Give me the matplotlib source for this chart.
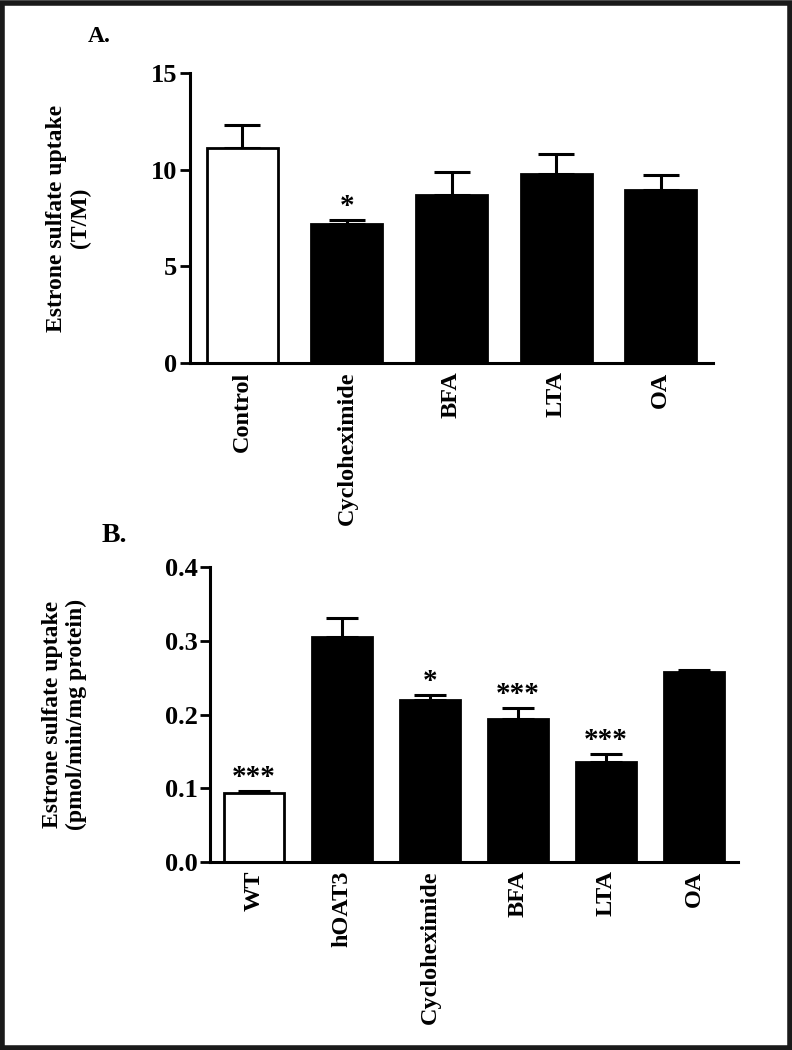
import matplotlib
matplotlib.use("Agg")
import matplotlib.pyplot as plt
from matplotlib.patches import Rectangle
import numpy as np

# panel A
a_labels = ["Control", "Cycloheximide", "BFA", "LTA", "OA"]
a_means = [11.1, 7.2, 8.7, 9.75, 8.95]
a_sem = [1.2, 0.2, 1.2, 1.05, 0.75]
a_colors = ["white", "black", "black", "black", "black"]
a_stars = ["", "*", "", "", ""]

# panel B
b_labels = ["WT", "hOAT3", "Cycloheximide", "BFA", "LTA", "OA"]
b_means = [0.094, 0.305, 0.220, 0.194, 0.136, 0.258]
b_sem = [0.002, 0.026, 0.007, 0.015, 0.011, 0.003]
b_colors = ["white", "black", "black", "black", "black", "black"]
b_stars = ["***", "", "*", "***", "***", ""]

plt.rcParams['font.family'] = ['Liberation Serif', 'DejaVu Serif']
plt.rcParams['font.weight'] = 'bold'
FS = 17


def draw_panel(ax, labels, means, sem, colors, stars, ylim, yticks, ylabel, capsize):
    x = np.arange(len(labels))
    # upper error only; lower half hidden behind the bars
    ax.errorbar(x, means, yerr=[np.zeros(len(sem)), sem], fmt='none',
                ecolor='black', elinewidth=2.2, capsize=capsize, capthick=2.2, zorder=1)
    ax.bar(x, means, width=0.68, color=colors, edgecolor='black', linewidth=2, zorder=2)
    for xi, m, s, st in zip(x, means, sem, stars):
        if st:
            ax.annotate(st, (xi, m + s), xytext=(0, 0), textcoords='offset points',
                        ha='center', va='bottom', fontsize=FS + 4, fontweight='bold')
    ax.set_xlim(-0.5, len(labels) - 0.5)
    ax.set_ylim(*ylim)
    ax.set_yticks(yticks)
    ax.set_xticks(x)
    ax.set_xticklabels(labels, rotation=90, fontsize=FS + 0.5, fontweight='bold')
    ax.tick_params(axis='x', length=0, pad=6)
    ax.tick_params(axis='y', length=7, width=2, labelsize=FS + 2, pad=2)
    for lab in ax.get_yticklabels():
        lab.set_fontweight('bold')
    for side in ['top', 'right']:
        ax.spines[side].set_visible(False)
    for side in ['left', 'bottom']:
        ax.spines[side].set_linewidth(2.2)
    ax.set_ylabel(ylabel, fontsize=FS, fontweight='bold', linespacing=1.15)


fig = plt.figure(figsize=(7.92, 10.5), dpi=100)

axA = fig.add_axes([190 / 792, 1 - 363 / 1050, (713 - 190) / 792, (363 - 73) / 1050])
draw_panel(axA, a_labels, a_means, a_sem, a_colors, a_stars, (0, 15), [0, 5, 10, 15],
           "Estrone sulfate uptake\n(T/M)", 13)
axA.yaxis.set_label_coords(-0.19, 0.5)

axB = fig.add_axes([210 / 792, 1 - 862 / 1050, (738 - 210) / 792, (862 - 567) / 1050])
draw_panel(axB, b_labels, b_means, b_sem, b_colors, b_stars, (0, 0.4),
           [0.0, 0.1, 0.2, 0.3, 0.4], "Estrone sulfate uptake\n(pmol/min/mg protein)", 11.5)
axB.yaxis.set_major_formatter(matplotlib.ticker.FormatStrFormatter('%.1f'))
axB.yaxis.set_label_coords(-0.233, 0.5)

fig.text(99 / 792, 1 - 37 / 1050, "A.", fontsize=FS, fontweight='bold', ha='center', va='center')
fig.text(114 / 792, 1 - 535 / 1050, "B.", fontsize=FS + 3, fontweight='bold', ha='center', va='center')

# outer frame
fig.patches.append(Rectangle((0.003, 0.002), 0.994, 0.995, transform=fig.transFigure,
                             fill=False, edgecolor='#1a1a1a', linewidth=4))

fig.savefig("out.png", dpi=100)
